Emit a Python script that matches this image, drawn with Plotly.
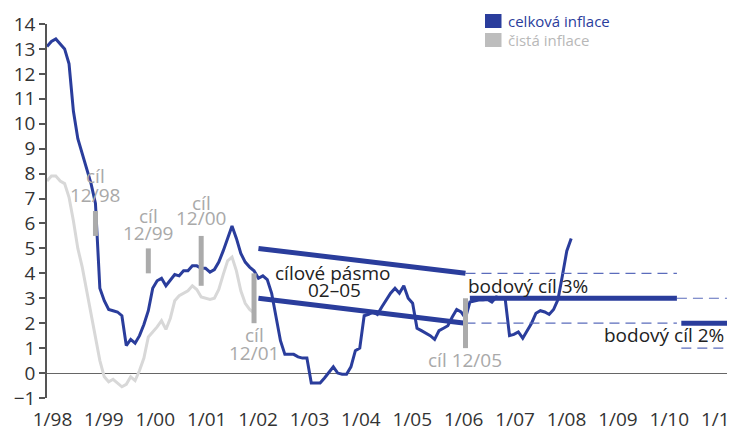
import plotly.graph_objects as go

# ---------------- data ----------------
START_YEAR = 1998  # month index 0 = 1/98

# celková inflace (headline CPI, y/y %), monthly 1/98 .. 12/07
celkova = [
    13.1, 13.3, 13.4, 13.2, 13.0, 12.4, 10.5, 9.4, 8.8, 8.2, 7.6, 6.8,      # 1998
    3.4, 2.9, 2.55, 2.5, 2.45, 2.3, 1.1, 1.35, 1.2, 1.5, 1.95, 2.5,         # 1999
    3.4, 3.7, 3.8, 3.5, 3.75, 3.95, 3.9, 4.1, 4.1, 4.3, 4.3, 4.2,           # 2000
    4.2, 4.05, 4.15, 4.45, 4.9, 5.4, 5.9, 5.4, 4.8, 4.45, 4.25, 4.1,        # 2001
    3.8, 3.9, 3.75, 3.2, 2.3, 1.3, 0.75, 0.75, 0.75, 0.65, 0.6, 0.6,        # 2002
    -0.4, -0.4, -0.4, -0.2, 0.05, 0.25, 0.0, -0.05, -0.05, 0.25, 0.9, 1.0,  # 2003
    2.3, 2.35, 2.45, 2.35, 2.65, 2.95, 3.2, 3.4, 3.2, 3.5, 3.0, 2.8,        # 2004
    1.8, 1.7, 1.6, 1.5, 1.35, 1.7, 1.8, 1.9, 2.25, 2.55, 2.45, 2.2,         # 2005
    2.85, 2.9, 2.93, 2.93, 2.95, 2.85, 3.05, 3.0, 3.0, 1.5, 1.55, 1.65,     # 2006
    1.4, 1.7, 2.0, 2.4, 2.5, 2.45, 2.35, 2.55, 2.95, 3.9, 4.9, 5.4,         # 2007
]

# čistá inflace (net inflation, y/y %), monthly 1/98 .. 12/01
cista = [
    7.7, 7.9, 7.9, 7.7, 7.6, 7.05, 6.1, 5.0, 4.25, 3.3, 2.4, 1.4,           # 1998
    0.5, -0.15, -0.35, -0.25, -0.4, -0.55, -0.45, -0.15, -0.3, 0.1, 0.6, 1.45,  # 1999
    1.65, 1.85, 2.1, 1.75, 2.2, 2.9, 3.1, 3.2, 3.3, 3.5, 3.35, 3.05,        # 2000
    3.0, 2.95, 3.0, 3.35, 3.95, 4.5, 4.65, 4.1, 3.3, 2.8, 2.55, 2.4,        # 2001
]

# inflation targets for net inflation (December targets, bands)
target_labels = ["12/98", "12/99", "12/00", "12/01"]
target_months = [11, 23, 35, 47]
target_low = [5.5, 4.0, 3.5, 2.0]
target_high = [6.5, 5.0, 5.5, 4.0]

# target band 02–05 (1/02 .. 12/05)
band_months = [48, 95]
band_upper = [5.0, 4.0]
band_lower = [3.0, 2.0]

# tolerance marker at 12/05
tol_month = 95
tol_low, tol_high = 1.0, 3.0

# point targets
point3_months = [96, 143]
point3_value = 3.0
point2_months = [144, 156]
point2_value = 2.0
tol_width = 1.0

x_labels = ["1/98", "1/99", "1/00", "1/01", "1/02", "1/03", "1/04",
            "1/05", "1/06", "1/07", "1/08", "1/09", "1/10", "1/11"]
y_ticks = list(range(-1, 15))

# ---------------- styling ----------------
BLUE = "#2a3d9c"
DASH_BLUE = "#5b6cbc"
LIGHT_GREY = "#d8d8d8"
BAR_GREY = "#ababab"
TEXT_GREY = "#a9a9a9"
FONT = "Open Sans"

def mx(m):
    return START_YEAR + m / 12.0

fig = go.Figure()

# net inflation
fig.add_trace(go.Scatter(x=[mx(i) for i in range(len(cista))], y=cista, mode="lines",
                         line=dict(color=LIGHT_GREY, width=3), showlegend=False))
# headline inflation
fig.add_trace(go.Scatter(x=[mx(i) for i in range(len(celkova))], y=celkova, mode="lines",
                         line=dict(color=BLUE, width=3), showlegend=False))

# dashed tolerance lines
dash = "10px,6px"
end_m = 156.3
for (m0, m1, v) in [(tol_month, point3_months[1], point3_value + tol_width),
                    (tol_month, point3_months[1], point3_value - tol_width),
                    (point3_months[1], end_m, point2_value + tol_width),
                    (point2_months[0], end_m, point2_value - tol_width)]:
    fig.add_trace(go.Scatter(x=[mx(m0), mx(m1)], y=[v, v], mode="lines",
                             line=dict(color=DASH_BLUE, width=1.2, dash=dash),
                             showlegend=False))

# target band lines
fig.add_trace(go.Scatter(x=[mx(m) for m in band_months], y=band_upper, mode="lines",
                         line=dict(color=BLUE, width=5), showlegend=False))
fig.add_trace(go.Scatter(x=[mx(m) for m in band_months], y=band_lower, mode="lines",
                         line=dict(color=BLUE, width=5), showlegend=False))
# point targets
fig.add_trace(go.Scatter(x=[mx(m) for m in point3_months], y=[point3_value] * 2, mode="lines",
                         line=dict(color=BLUE, width=5), showlegend=False))
fig.add_trace(go.Scatter(x=[mx(m) for m in point2_months], y=[point2_value] * 2, mode="lines",
                         line=dict(color=BLUE, width=5), showlegend=False))

# grey target bars
for m, lo, hi in zip(target_months + [tol_month], target_low + [tol_low], target_high + [tol_high]):
    fig.add_trace(go.Scatter(x=[mx(m), mx(m)], y=[lo, hi], mode="lines",
                             line=dict(color=BAR_GREY, width=5), showlegend=False))

# ---------------- annotations ----------------
ann = []
def text(x, y, s, color, size=19, xanchor="center"):
    ann.append(dict(x=x, y=y, xref="x", yref="y", text=s, showarrow=False,
                    xanchor=xanchor, yanchor="middle",
                    font=dict(family=FONT, size=size, color=color)))

label_y = {"12/98": (7.9, 7.14), "12/99": (6.3, 5.62), "12/00": (6.82, 6.22), "12/01": (1.52, 0.8)}
for lab, m in zip(target_labels, target_months):
    y1, y2 = label_y[lab]
    text(mx(m), y1, "cíl", TEXT_GREY)
    text(mx(m), y2, lab, TEXT_GREY)
text(mx(tol_month), 0.52, "cíl 12/05", TEXT_GREY)
text(2003.40, 4.01, "cílové pásmo", "#222222")
text(2003.44, 3.33, "02–05", "#222222")
text(2005.93, 3.49, "bodový cíl 3%", "#222222", xanchor="left")
text(2009.67, 1.52, "bodový cíl 2%", "#222222")

# page body has an 8px margin; the figure is sized to fill the window from there
OFF = 8
FIG_W, FIG_H = 735 - OFF, 427 - OFF
L, T, W, H = 47 - OFF, 24 - OFF, 688, 374

def px(x):  # window pixel -> paper x
    return (x - OFF - L) / W
def py(y):  # window pixel -> paper y
    return (T + H - (y - OFF)) / H

shapes = []
for (y0, y1, col, lab, tc) in [(14, 28, BLUE, "celková inflace", BLUE),
                               (33, 47, "#bdbdbd", "čistá inflace", "#b8b8b8")]:
    shapes.append(dict(type="rect", xref="paper", yref="paper",
                       x0=px(485), x1=px(501.5), y0=py(y1), y1=py(y0),
                       fillcolor=col, line=dict(width=0)))
    ann.append(dict(x=px(506), y=py((y0 + y1) / 2), xref="paper", yref="paper",
                    text=lab, showarrow=False, xanchor="left", yanchor="middle",
                    font=dict(family=FONT, size=15, color=tc)))

tick_first = 1998.104
tick_step = 0.9724
fig.update_layout(
    width=FIG_W, height=FIG_H,
    margin=dict(l=L, r=0, t=T, b=FIG_H - T - H, autoexpand=False),
    paper_bgcolor="white", plot_bgcolor="white",
    showlegend=False,
    annotations=ann, shapes=shapes,
    xaxis=dict(range=[1998.0, 1998.0 + W / 52.86], showgrid=False, zeroline=False,
               showline=False, ticks="", automargin=False,
               tickvals=[tick_first + i * tick_step for i in range(len(x_labels))],
               ticktext=x_labels, ticklabelstandoff=8, ticklabeloverflow="allow",
               tickfont=dict(family=FONT, size=19, color="#333333")),
    yaxis=dict(range=[-1, 14], tickvals=y_ticks, showgrid=False, automargin=False,
               zeroline=True, zerolinecolor="#666666", zerolinewidth=1.2,
               showline=True, linecolor="#555555", linewidth=1.5,
               ticks="outside", ticklen=6, tickcolor="#555555", tickwidth=1.5,
               tickfont=dict(family=FONT, size=19, color="#333333")),
)

fig.write_html("out.html")
